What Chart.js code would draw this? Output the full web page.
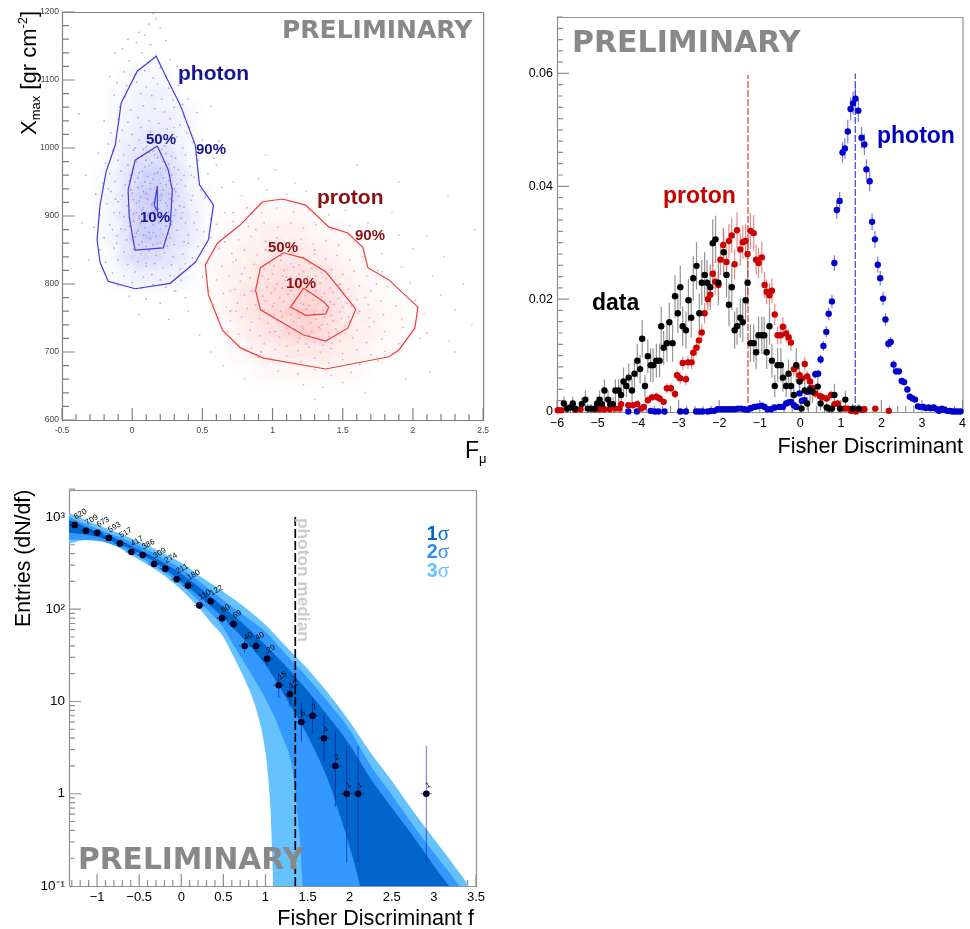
<!DOCTYPE html>
<html>
<head>
<meta charset="utf-8">
<script src="https://cdn.jsdelivr.net/npm/chart.js@4"></script>
<style>
  html, body { margin: 0; padding: 0; background: #fff; overflow: hidden; }
  canvas { position: absolute; }
</style>
</head>
<body>
<canvas id="scatterPanel" style="left:0;top:0"></canvas>
<canvas id="fisherPanel" style="left:490px;top:0"></canvas>
<canvas id="entriesPanel" style="left:0;top:470px"></canvas>
<script>
// --- top left: Xmax vs Fmu ---
const photon90 = [[.171,1135],[.036,1113],[-.079,1066],[-.093,1044],[-.121,1004],[-.186,965],[-.229,916],[-.25,865],[-.229,832],[-.171,804],[.021,793],[.271,801],[.45,832],[.543,865],[.579,916],[.557,923],[.479,946],[.45,1004],[.343,1063],[.236,1107],[.171,1135]];
const photon50 = [[.179,1003],[.021,982],[-.029,938],[-.021,899],[.007,865],[.021,850],[.221,853],[.271,887],[.286,938],[.257,968],[.179,1003]];
const photon10 = [[.179,944],[.157,916],[.179,907],[.179,944]];
const proton90 = [[.929,921],[1.071,925],[1.236,916],[1.4,884],[1.536,875],[1.643,854],[1.679,824],[1.829,806],[2.036,766],[2.014,735],[1.9,703],[1.829,693],[1.379,675],[.936,691],[.771,706],[.643,732],[.543,784],[.521,828],[.607,860],[.771,887],[.929,921]];
const proton50 = [[1.079,846],[1.221,838],[1.379,818],[1.486,791],[1.593,763],[1.536,735],[1.379,716],[1.221,725],[.914,762],[.879,791],[.914,824],[1.079,846]];
const proton10 = [[1.221,794],[1.129,766],[1.236,754],[1.379,756],[1.4,766],[1.364,774],[1.221,794]];

// density of the clouds, rows top to bottom
const photonDensityCols = [-.2,-.1,0,.1,.2,.3,.4,.5];
const photonDensityRows = [1110,1080,1050,1020,990,960,930,900,870,840,810];
const photonDensity = [
  [0,0,1,1,1,0,0,0],
  [0,1,1,2,2,1,0,0],
  [0,1,2,2,2,2,1,0],
  [0,1,2,3,3,2,1,0],
  [0,2,3,4,4,3,1,0],
  [1,2,4,6,6,4,2,0],
  [1,2,5,7,7,5,2,1],
  [1,2,5,7,7,5,3,1],
  [1,2,5,7,6,4,3,1],
  [0,2,4,5,4,3,2,0],
  [0,1,2,2,2,2,1,0]
];
const protonDensityCols = [.6,.7,.8,.9,1,1.1,1.2,1.3,1.4,1.5,1.6,1.7,1.8,1.9];
const protonDensityRows = [910,880,850,820,790,760,730,700,670];
const protonDensity = [
  [0,0,1,1,1,1,1,1,0,0,0,0,0,0],
  [0,1,1,2,2,2,2,1,1,1,0,0,0,0],
  [1,1,2,2,3,3,3,2,2,1,1,0,0,0],
  [1,2,2,3,4,4,4,4,3,2,1,1,0,0],
  [1,2,3,4,5,5,6,5,4,3,2,1,1,0],
  [1,2,3,4,5,6,7,6,5,3,2,2,1,1],
  [0,1,2,3,4,5,6,6,4,3,2,2,1,1],
  [0,1,1,2,2,3,3,3,3,2,2,1,1,0],
  [0,0,0,1,1,1,1,1,1,1,1,0,0,0]
];

const photonCloud = [
  [.15,1198],[.17,1190],[.12,1182],[.2,1176],[.05,1170],[.09,1166],[-.03,1160],[.03,1155],[.13,1152],[.24,1158],[-.12,1140],[-.07,1146],[.07,1140],[.17,1136],[.27,1130],[.32,1120],[-.02,1128],[.11,1125],[.2,1118],[-.16,1105],[-.06,1112],[.02,1108],[.09,1114],[.15,1103],[.24,1106],
  [-.11,1096],[-.04,1092],[.03,1097],[.1,1090],[.18,1094],[.26,1088],[.33,1092],[.4,1072],[-.13,1078],[-.05,1075],[.06,1080],[.14,1077],[.21,1072],[.29,1070],[.36,1064],[-.09,1060],[-.01,1056],[.08,1062],[.16,1058],[.23,1053],[.3,1060],[.37,1046],[.46,1052],[-.2,1040],[-.1,1042],[-.03,1038],[.04,1045],[.12,1040],[.19,1036],[.27,1043],[.34,1034],[.41,1030],[-.15,1022],[-.07,1026],[0,1020],[.06,1030],[.13,1024],[.2,1018],[.25,1028],[.32,1016],[.39,1022],[.5,1012],[-.17,1006],[-.09,1010],[-.02,1004],[.05,1012],[.1,1002],[.16,1008],[.23,1003],[.3,1006],[.36,1000],[.43,1008],
  [-.24,992],[-.14,996],[-.06,990],[.01,997],[.07,988],[.12,994],[.18,986],[.24,992],[.31,985],[.38,990],[.47,982],[-.19,978],[-.1,982],[-.03,975],[.03,980],[.09,972],[.14,978],[.2,970],[.26,976],[.33,968],[.41,973],[-.16,962],[-.08,966],[-.01,960],[.05,964],[.11,958],[.16,962],[.22,956],[.28,960],[.35,953],[.44,957],[.54,962],[-.21,948],[-.12,951],[-.05,946],[.02,950],[.07,944],[.13,948],[.18,941],[.24,946],[.3,940],[.38,944],[.49,938],[-.26,932],[-.15,936],[-.07,930],[0,934],[.06,928],[.1,933],[.16,926],[.21,931],[.27,925],[.33,929],[.42,923],[.52,927],[-.18,918],[-.1,921],[-.03,915],[.03,919],[.08,912],[.14,917],[.19,910],[.25,915],[.31,909],[.37,913],[.46,906],[-.23,902],[-.13,905],[-.06,899],[.01,903],[.05,896],[.11,901],[.17,894],[.22,899],[.28,892],[.35,897],[.44,890],[.56,895],
  [-.27,884],[-.16,887],[-.08,881],[-.02,885],[.04,878],[.09,883],[.15,876],[.2,881],[.26,874],[.32,879],[.4,872],[.51,877],[-.2,868],[-.11,871],[-.04,865],[.02,869],[.07,862],[.13,867],[.18,860],[.24,865],[.3,858],[.37,862],[.47,855],[-.23,850],[-.13,853],[-.06,847],[.01,851],[.06,844],[.12,849],[.17,842],[.23,846],[.29,840],[.36,844],[.43,838],[-.19,832],[-.1,835],[-.03,829],[.04,833],[.1,826],[.16,830],[.22,824],[.28,828],[.34,822],[.41,826],[-.14,816],[-.06,812],[.02,818],[.08,810],[.14,814],[.2,806],[.27,812],[.35,806],[-.1,798],[0,802],[.07,794],[.15,799],[.24,795],[.31,790],[-.02,782],[.1,778],[.2,772],[.38,780],[.05,755],[.26,748],
  [.58,985],[.64,942],[.72,905],[.62,1010],[.56,1062],[-.33,960],[-.36,890],[-.31,835],[-.38,1050],[.66,862],[.74,835],[.85,790],[.95,850],[1.1,810],[1.22,770],[1.35,740],[1.48,800],[1.02,730],[.88,880],[1.3,850],[1.62,760],[1.75,820],[.7,760],[.92,700],
  [.02,1000],[.08,998],[.15,996],[.21,998],[.04,985],[.1,982],[.16,990],[.22,980],[.28,988],[.01,970],[.07,966],[.12,974],[.18,964],[.24,968],[.3,972],[-.02,952],[.04,956],[.09,950],[.15,954],[.2,948],[.26,952],[.32,947],[-.01,938],[.04,942],[.08,936],[.13,940],[.17,934],[.22,938],[.26,933],[.31,936],[.01,924],[.05,922],[.11,925],[.15,920],[.2,923],[.24,919],[.29,922],[-.02,908],[.03,905],[.07,909],[.12,904],[.16,907],[.21,903],[.26,906],[.3,901],[.01,892],[.06,889],[.1,893],[.15,887],[.19,890],[.24,885],[.28,888],[.03,875],[.08,872],[.12,876],[.17,870],[.22,873],[.27,868],[.05,858],[.1,855],[.15,858],[.2,853],[.25,856],[-.12,925],[-.09,905],[-.14,880],[-.11,860],[-.17,940],[-.05,880],[.34,915],[.38,890],[.4,860],[.43,930],[.37,960]
];

const protonCloud = [
  [.9,955],[1.02,968],[1.16,948],[.78,930],[.96,938],[1.1,932],[1.24,936],[1.34,925],[.66,905],[.82,912],[.92,905],[1.03,912],[1.15,906],[1.26,910],[1.4,902],[1.52,908],[1.66,920],[.6,888],[.72,892],[.83,885],[.94,890],[1.04,884],[1.13,889],[1.22,882],[1.31,887],[1.42,880],[1.55,885],[1.68,890],[1.85,905],
  [.56,868],[.66,872],[.76,865],[.85,870],[.95,863],[1.03,868],[1.12,861],[1.2,866],[1.29,859],[1.38,864],[1.47,857],[1.58,862],[1.72,866],[1.9,872],[.52,848],[.62,852],[.71,845],[.8,850],[.89,843],[.97,848],[1.06,841],[1.14,846],[1.22,839],[1.3,844],[1.38,837],[1.46,842],[1.55,835],[1.64,840],[1.78,845],[2.0,852],
  [.54,830],[.64,826],[.72,832],[.8,824],[.87,829],[.94,822],[1.01,827],[1.08,820],[1.15,825],[1.22,818],[1.28,823],[1.35,816],[1.42,821],[1.5,814],[1.58,819],[1.67,812],[1.78,818],[1.92,825],[.5,810],[.6,806],[.69,812],[.77,804],[.84,809],[.9,802],[.97,807],[1.03,800],[1.09,805],[1.16,798],[1.22,803],[1.28,796],[1.34,801],[1.41,794],[1.47,799],[1.54,792],[1.62,797],[1.7,790],[1.82,796],[1.98,802],[2.14,812],
  [.55,790],[.65,786],[.73,792],[.8,784],[.87,789],[.93,782],[.99,787],[1.05,780],[1.11,785],[1.17,778],[1.23,783],[1.29,776],[1.35,781],[1.41,774],[1.47,779],[1.53,772],[1.6,777],[1.68,770],[1.77,775],[1.88,768],[2.02,776],[2.2,784],[.58,770],[.67,766],[.75,772],[.82,764],[.88,769],[.94,762],[1.0,767],[1.06,760],[1.12,765],[1.18,758],[1.24,763],[1.3,756],[1.36,761],[1.42,754],[1.48,759],[1.54,752],[1.61,757],[1.69,750],[1.79,755],[1.92,748],[2.08,756],[2.3,762],
  [.62,750],[.7,746],[.78,752],[.85,744],[.91,749],[.97,742],[1.03,747],[1.09,740],[1.15,745],[1.21,738],[1.27,743],[1.33,736],[1.39,741],[1.45,734],[1.52,739],[1.6,732],[1.69,737],[1.8,730],[1.93,736],[2.1,728],[.68,730],[.76,726],[.84,732],[.91,724],[.98,729],[1.05,722],[1.12,727],[1.19,720],[1.26,725],[1.33,718],[1.4,723],[1.48,716],[1.57,721],[1.67,714],[1.78,719],[1.9,712],[2.05,720],[2.26,716],
  [.76,710],[.85,706],[.94,712],[1.02,704],[1.1,709],[1.18,702],[1.26,707],[1.34,700],[1.42,705],[1.5,698],[1.6,703],[1.7,696],[1.8,701],[.9,692],[1.0,688],[1.1,694],[1.2,686],[1.3,691],[1.4,684],[1.5,689],[1.62,682],[1.75,687],[1.04,672],[1.18,668],[1.3,674],[1.42,666],[1.56,670],[1.22,652],[1.36,648],[1.5,655],[1.3,630],[1.66,640],
  [.3,790],[.4,760],[.38,830],[.46,880],[.36,905],[.52,930],[.42,960],[.6,975],[.72,950],[.2,860],[.1,830],[.48,725],[.56,700],[.65,680],[.8,660],[2.1,870],[2.22,840],[2.36,800],[2.42,740],[2.3,700],[2.12,670],[1.95,660],[2.44,880],[2.25,930],[1.9,950],[1.6,975],[.95,990],[.05,900],[.15,1010],[.3,1030],
  [.98,830],[1.06,835],[1.13,830],[1.19,828],[1.26,830],[.93,812],[1,815],[1.07,812],[1.13,810],[1.19,814],[1.25,810],[1.31,812],[1.38,808],[.96,795],[1.02,792],[1.07,794],[1.13,790],[1.19,793],[1.25,788],[1.31,790],[1.37,786],[1.43,788],[1.5,785],[.95,775],[1.01,772],[1.08,774],[1.14,770],[1.2,772],[1.26,768],[1.32,771],[1.38,767],[1.44,770],[1.5,766],[1.56,768],[1.01,755],[1.07,752],[1.13,755],[1.19,750],[1.25,753],[1.31,748],[1.37,751],[1.43,746],[1.49,749],[1.55,745],[1.1,735],[1.16,732],[1.22,735],[1.28,730],[1.34,733],[1.4,728],[1.46,731],[1.52,727],[1.18,715],[1.24,712],[1.3,715],[1.36,710],[1.42,713],[1.66,780],[1.72,745],[1.74,800],[.74,760],[.7,790],[.78,815]
];

// --- top right: Fisher discriminant histograms, rows are [x, value, error] ---
const photonHist = [
  [-4.24,.0001,.0002],[-4.03,.0001,.0002],[-3.69,.0002,.0002],[-3.59,.0001,.0002],[-3.5,.0001,.0002],[-3.35,.0001,.0002],[-2.96,.0001,.0002],[-2.82,.0001,.0002],[-2.57,.0001,.0002],[-2.49,.0001,.0002],[-2.41,.0001,.0002],[-2.28,.0001,.0002],[-2.2,.0002,.0002],[-2.12,.0002,.0002],[-2.04,.0005,.0003],[-1.95,.0005,.0003],[-1.87,.0005,.0003],[-1.79,.0005,.0003],[-1.71,.0005,.0003],[-1.62,.0005,.0003],[-1.54,.0006,.0003],[-1.46,.0006,.0003],[-1.38,.0005,.0003],[-1.3,.0004,.0003],[-1.21,.0007,.0003],[-1.13,.0009,.0003],[-1.05,.001,.0003],[-.95,.0011,.0003],[-.88,.0009,.0003],[-.81,.0005,.0003],[-.72,.0005,.0003],[-.64,.0008,.0003],[-.52,.0009,.0003],[-.43,.0009,.0003],[-.35,.0015,.0004],[-.29,.0017,.0004],[-.23,.0018,.0004],[-.16,.0012,.0004],[-.1,.0009,.0003],
  [-.02,.0033,.0005],[.04,.002,.0004],[.1,.0021,.0004],[.18,.0036,.0005],[.25,.0042,.0006],[.37,.0067,.0007],[.44,.0068,.0007],[.5,.0093,.0008],[.57,.0117,.0009],[.64,.0142,.001],[.7,.0174,.0011],[.78,.0196,.0012],[.84,.0264,.0014],[.9,.0358,.0016],[.97,.0374,.0016],[1.04,.046,.0018],[1.1,.0467,.0018],[1.17,.0497,.0021],[1.24,.0537,.002],[1.3,.0547,.002],[1.36,.0555,.002],[1.43,.0534,.002],[1.51,.0486,.0019],[1.58,.0474,.0019],[1.63,.043,.0018],[1.71,.0409,.0018],[1.77,.0337,.0015],[1.84,.0306,.0015],[1.91,.0261,.0014],[1.97,.0237,.0013],[2.04,.0201,.0012],[2.1,.0164,.0011],[2.17,.0121,.0009],[2.23,.0124,.0009],[2.3,.0084,.0008],[2.36,.0072,.0007],[2.43,.0072,.0007],[2.5,.0055,.0006],[2.56,.0053,.0006],[2.64,.004,.0005],[2.7,.0027,.0005],[2.77,.0024,.0004],[2.83,.0022,.0004],[2.9,.001,.0003],[2.96,.0009,.0003],[3.03,.0009,.0003],[3.09,.0007,.0003],[3.16,.0008,.0003],[3.22,.0007,.0003],[3.29,.0008,.0003],[3.36,.0005,.0003],[3.42,.0002,.0002],[3.49,.0006,.0003],[3.55,.0004,.0002],[3.62,.0002,.0002],[3.69,.0002,.0002],[3.75,.0001,.0001],[3.82,.0001,.0001],[3.88,.0001,.0001],[3.95,.0001,.0001]
];
const protonHist = [
  [-5.98,.0003,.0003],[-5.9,.0003,.0003],[-5.55,.0004,.0004],[-5.42,.0005,.0004],[-5.07,.0005,.0004],[-4.95,.0005,.0004],[-4.84,.0005,.0004],[-4.7,.0005,.0004],[-4.56,.0006,.0004],[-4.46,.0006,.0004],[-4.42,.0014,.0005],[-4.24,.0012,.0005],[-4.13,.0012,.0005],[-4.02,.0014,.0005],[-3.92,.0006,.0004],[-3.86,.0009,.0005],[-3.76,.0021,.0007],[-3.66,.0026,.0007],[-3.55,.0027,.0007],[-3.47,.0024,.0007],[-3.37,.0018,.0006],[-3.29,.0042,.0009],[-3.19,.0042,.0009],[-3.09,.0032,.0008],[-3.04,.0065,.001],[-2.96,.006,.001],[-2.9,.0087,.0012],[-2.82,.0058,.001],[-2.77,.0088,.0012],[-2.68,.0088,.0012],[-2.64,.0105,.0013],[-2.56,.0114,.0014],[-2.5,.0127,.0015],[-2.43,.0141,.0016],[-2.36,.0175,.0018],[-2.28,.02,.002],[-2.22,.0208,.0021],[-2.16,.0245,.0024],[-2.1,.0231,.0023],[-2.02,.0225,.0022],[-1.97,.027,.0027],[-1.9,.0296,.003],[-1.82,.0266,.0027],[-1.76,.0303,.003],[-1.69,.0313,.0031],[-1.62,.0262,.0027],[-1.56,.0322,.0032],[-1.48,.0288,.0029],[-1.42,.0301,.003],[-1.35,.0303,.003],[-1.3,.028,.0028],[-1.23,.0321,.0032],[-1.15,.0317,.0032],[-1.09,.027,.0027],[-1.03,.0264,.0027],[-.95,.0274,.0028],[-.88,.0225,.0023],
  [-.83,.0213,.0022],[-.76,.0207,.0021],[-.7,.0215,.0022],[-.63,.0173,.0019],[-.56,.0136,.0016],[-.48,.0136,.0016],[-.43,.0151,.0017],[-.35,.0139,.0016],[-.29,.0132,.0015],[-.23,.0123,.0015],[-.16,.0076,.0012],[-.1,.008,.0012],[-.02,.0065,.0011],[.04,.006,.001],[.11,.0085,.0012],[.17,.0063,.001],[.24,.0054,.001],[.3,.0042,.0009],[.37,.0033,.0008],[.49,.0028,.0007],[.55,.0026,.0007],[.65,.0024,.0007],[.76,.003,.0008],[.84,.0014,.0006],[.92,.0015,.0006],[.98,.0006,.0004],[1.08,.0006,.0004],[1.17,.0006,.0004],[1.25,.0002,.0003],[1.37,.0001,.0002],[1.53,.0004,.0003],[1.58,.0005,.0003],[1.85,.0006,.0004],[2.18,.0002,.0003]
];
const dataHist = [
  [-5.83,.0015,.0012],[-5.75,.0006,.0008],[-5.67,.0008,.0008],[-5.61,.0015,.0012],[-5.55,.0006,.0008],[-5.39,.0014,.0012],[-5.3,.0022,.0016],[-5.24,.0006,.0008],[-5.16,.0006,.0008],[-5.07,.0006,.0008],[-5.01,.0015,.0012],[-4.95,.0022,.0016],[-4.89,.0014,.0012],[-4.83,.0038,.002],[-4.74,.0022,.0016],[-4.69,.0014,.0012],[-4.62,.0014,.0012],[-4.56,.0038,.002],[-4.48,.0038,.002],[-4.42,.003,.002],[-4.36,.0054,.0025],[-4.29,.0046,.002],[-4.23,.0061,.0025],[-4.15,.0038,.002],[-4.09,.0068,.0025],[-4.02,.0091,.003],[-3.95,.0076,.0025],[-3.9,.013,.0033],[-3.83,.0046,.002],[-3.76,.0099,.003],[-3.69,.0083,.003],[-3.63,.0083,.003],[-3.55,.0091,.003],[-3.47,.0091,.003],[-3.43,.0152,.0035],[-3.37,.0114,.003],[-3.29,.0122,.0033],[-3.23,.0159,.0035],[-3.15,.0122,.0033],[-3.09,.0205,.0038],[-3.02,.0175,.0035],[-2.96,.0221,.0038],[-2.9,.0152,.0035],[-2.82,.0145,.0033],[-2.76,.0198,.0038],[-2.69,.0167,.0035],[-2.64,.0237,.004],[-2.56,.0259,.0042],[-2.49,.0175,.0035],[-2.43,.0229,.004],[-2.36,.0243,.004],[-2.3,.0229,.004],[-2.22,.0221,.004],[-2.16,.0299,.0042],[-2.09,.0306,.0042],[-2.02,.0229,.004],[-1.89,.0283,.0042],[-1.82,.0243,.004],[-1.76,.019,.0038],[-1.69,.0221,.004],[-1.62,.0145,.0033],[-1.56,.0152,.0033],[-1.48,.0167,.0035],[-1.42,.0159,.0035],[-1.35,.0198,.0038],[-1.3,.0229,.004],[-1.23,.0122,.0033],[-1.15,.0122,.0033],[-1.09,.0106,.003],[-1.03,.0136,.0033],[-.95,.0136,.0033],
  [-.89,.0136,.0033],[-.83,.0106,.003],[-.76,.0152,.0033],[-.7,.0091,.003],[-.63,.0046,.002],[-.56,.0083,.003],[-.48,.0083,.003],[-.43,.0061,.0025],[-.35,.0046,.002],[-.29,.0068,.0025],[-.23,.0046,.002],[-.16,.003,.002],[-.1,.0083,.003],[-.02,.0054,.0025],[.03,.0006,.0008],[.11,.0038,.002],[.17,.0015,.0012],[.24,.0039,.002],[.3,.0036,.002],[.43,.0045,.002],[.5,.0015,.0012],[.65,.0008,.0008],[.71,.0006,.0008],[.78,.0006,.0008],[.84,.003,.002],[.98,.0006,.0008],[1.11,.0022,.0016],[1.29,.0006,.0008],[1.44,.0006,.0008]
];
const medianProton = -1.29;
const medianPhoton = 1.355;

// --- bottom left: entries vs Fisher discriminant ---
const entriesX = [-1.265,-1.13,-.996,-.86,-.727,-.592,-.458,-.323,-.189,-.054,.08,.215,.35,.484,.619,.753,.888,1.02,1.157,1.29,1.426,1.56,1.695,1.83,1.965,2.1,2.91];
const entries = [820,709,673,593,517,417,386,309,274,211,180,110,122,80,69,40,40,29,15,12,6,7,4,2,1,1,1];
const entriesLow = [792,682,647,569,494,397,367,291,257,196,167,100,111,71,61,34,34,24,11,8.6,3.7,4.5,2.2,.72,.18,.18,.18];
const entriesHigh = [849,736,699,617,540,437,405,327,291,226,193,120,133,89,77,46,46,34,19,16,9.7,11,7.2,4.7,3.3,3.3,3.3];
const sigma3Up = [[-1.34,1112],[-1,824],[-.75,675],[-.5,539],[-.25,420],[0,319],[.25,219],[.5,155],[.75,106],[1,68],[1.25,39],[1.5,22.6],[1.75,12.1],[2,6.03],[2.25,2.78],[2.5,1.38],[2.75,.654],[3,.325],[3.25,.162],[3.44,.09],[3.52,.06]];
const sigma2Up = [[-1.34,1006],[-1,746],[-.75,611],[-.5,488],[-.25,371],[0,275],[.25,189],[.5,125],[.75,85],[1,57],[1.25,32],[1.5,18.1],[1.75,9.7],[2,4.94],[2.25,2.01],[2.5,.975],[2.75,.461],[3,.229],[3.25,.117],[3.33,.091],[3.52,.04]];
const sigma1Up = [[-1.34,934],[-1,692],[-.75,567],[-.5,442],[-.25,336],[0,243],[.25,163],[.5,106],[.75,68],[1,41],[1.25,23.8],[1.5,13.1],[1.75,6.84],[2,3.4],[2.25,1.45],[2.5,.705],[2.75,.351],[3,.166],[3.17,.103],[3.26,.08],[3.52,.04]];
const sigma1Down = [[-1.34,675],[-1,611],[-.75,513],[-.5,409],[-.25,296],[0,199],[.25,130],[.5,81],[.75,46.7],[1,25],[1.25,10.7],[1.5,4.25],[1.75,1.35],[1.893,.55],[2,.266],[2.12,.103],[2.155,.07],[3.52,.03]];
const sigma2Down = [[-1.34,567],[-1,553],[-.75,476],[-.5,371],[-.25,268],[0,184],[.25,112],[.5,63],[.619,41],[.821,20.5],[1.024,9.7],[1.202,4.15],[1.321,1.82],[1.381,.59],[1.417,.247],[1.44,.103],[1.465,.071],[3.52,.03]];
const sigma3Down = [[-1.34,513],[-1.12,567],[-.87,526],[-.5,344],[-.25,249],[0,163],[.25,94],[.345,73],[.5,50],[.583,36],[.738,18.5],[.881,8.78],[.976,3.85],[1.024,1.82],[1.06,.67],[1.095,.103],[1.107,.07],[3.52,.03]];
const photonMedian = 1.354;

// helpers for ROOT-like axes
function steps(from, to, step) {
  const out = [];
  for (let v = from; v <= to + step / 100; v += step) out.push(+v.toFixed(5));
  return out;
}

function framePlugin(cfg) {
  return {
    id: 'frame',
    beforeDatasetsDraw(chart) {
      const { ctx, chartArea: a, scales } = chart;
      ctx.save();
      ctx.strokeStyle = cfg.color;
      ctx.lineWidth = 1.2;
      ctx.beginPath();
      ctx.rect(a.left + .5, a.top + .5, a.right - a.left, a.bottom - a.top);
      const tick = (axis, v, len) => {
        if (axis === 'x') {
          const p = scales.x.getPixelForValue(v);
          ctx.moveTo(p, a.bottom); ctx.lineTo(p, a.bottom - len);
        } else {
          const p = scales.y.getPixelForValue(v);
          ctx.moveTo(a.left, p); ctx.lineTo(a.left + len, p);
        }
      };
      cfg.xMinor.forEach(v => tick('x', v, cfg.xLen[1]));
      cfg.xMajor.forEach(v => tick('x', v, cfg.xLen[0]));
      cfg.yMinor.forEach(v => tick('y', v, cfg.yLen[1]));
      cfg.yMajor.forEach(v => tick('y', v, cfg.yLen[0]));
      ctx.stroke();
      ctx.restore();
    }
  };
}

// text list: each entry is a run of parts drawn one after the other
function textPlugin(items) {
  return {
    id: 'labels',
    afterDatasetsDraw(chart) {
      const ctx = chart.ctx;
      items.forEach(it => {
        ctx.save();
        ctx.translate(it.x, it.y);
        if (it.rot) ctx.rotate(it.rot * Math.PI / 180);
        ctx.textBaseline = 'alphabetic';
        ctx.fillStyle = it.color || '#000';
        const parts = it.parts || [{ t: it.text, f: it.font }];
        let cx = 0;
        if (it.align === 'right') {
          parts.forEach(p => { ctx.font = p.f; cx -= ctx.measureText(p.t).width; });
        }
        parts.forEach(p => {
          ctx.font = p.f;
          ctx.fillText(p.t, cx, p.dy || 0);
          cx += ctx.measureText(p.t).width;
        });
        ctx.restore();
      });
    }
  };
}

function histErrors(sets) {
  return {
    id: 'histErrors',
    beforeDatasetsDraw(chart) {
      const { ctx, scales } = chart;
      ctx.save();
      ctx.lineWidth = 1.2;
      sets.forEach(s => {
        ctx.strokeStyle = s.color;
        ctx.beginPath();
        s.rows.forEach(r => {
          const p = scales.x.getPixelForValue(r[0]);
          ctx.moveTo(p, scales.y.getPixelForValue(r[1] - r[2]));
          ctx.lineTo(p, scales.y.getPixelForValue(r[1] + r[2]));
        });
        ctx.stroke();
      });
      ctx.restore();
    }
  };
}

const entriesMarks = {
  id: 'entriesMarks',
  afterDatasetsDraw(chart) {
    const { ctx, scales } = chart;
    ctx.save();
    ctx.strokeStyle = 'rgba(0,0,170,.55)';
    ctx.lineWidth = 1;
    ctx.beginPath();
    entriesX.forEach((x, i) => {
      const px = scales.x.getPixelForValue(x);
      const py = scales.y.getPixelForValue(entries[i]);
      ctx.moveTo(px, scales.y.getPixelForValue(entriesLow[i]));
      ctx.lineTo(px, scales.y.getPixelForValue(entriesHigh[i]));
      ctx.moveTo(scales.x.getPixelForValue(x - .067), py);
      ctx.lineTo(scales.x.getPixelForValue(x + .067), py);
    });
    ctx.stroke();
    ctx.fillStyle = '#000';
    ctx.font = '8px "Liberation Sans"';
    entriesX.forEach((x, i) => {
      ctx.save();
      ctx.translate(scales.x.getPixelForValue(x) + 1, scales.y.getPixelForValue(entries[i]) - 5.5);
      ctx.rotate(-30 * Math.PI / 180);
      ctx.fillText(String(entries[i]), 0, 0);
      ctx.restore();
    });
    ctx.restore();
  }
};

function softSprites(rgb) {
  const sprites = [null];
  for (let level = 1; level <= 9; level++) {
    const c = document.createElement('canvas');
    c.width = c.height = 36;
    const g = c.getContext('2d');
    const grad = g.createRadialGradient(18, 18, 0, 18, 18, 18);
    grad.addColorStop(0, `rgba(${rgb},${.036 * level})`);
    grad.addColorStop(1, `rgba(${rgb},0)`);
    g.fillStyle = grad;
    g.fillRect(0, 0, 36, 36);
    sprites.push(c);
  }
  return sprites;
}

function densityPoints(cols, rows, table) {
  const out = [];
  table.forEach((row, j) => row.forEach((level, i) => {
    if (level > 0) out.push({ x: cols[i], y: rows[j], level });
  }));
  return out;
}

function pairs(list) {
  return list.map(p => ({ x: p[0], y: p[1] }));
}

function axis(opts) {
  return {
    type: opts.type || 'linear',
    min: opts.min,
    max: opts.max,
    border: { display: false },
    grid: { display: false, drawTicks: false },
    ticks: {
      autoSkip: false,
      maxRotation: 0,
      minRotation: 0,
      color: opts.color,
      padding: opts.padding,
      font: { family: '"Liberation Sans"', size: opts.size },
      callback: opts.label
    },
    afterBuildTicks: s => { s.ticks = opts.ticks.map(v => ({ value: v })); },
    afterFit: s => {
      if (opts.width) s.width = opts.width;
      if (opts.height) s.height = opts.height;
    }
  };
}

function makeChart(id, w, h, padding, config, plugins) {
  const canvas = document.getElementById(id);
  canvas.width = w;
  canvas.height = h;
  canvas.style.width = w + 'px';
  canvas.style.height = h + 'px';
  return new Chart(canvas.getContext('2d'), {
    type: 'scatter',
    data: { datasets: config.datasets },
    options: {
      responsive: false,
      animation: false,
      events: [],
      layout: { padding, autoPadding: false },
      scales: config.scales,
      plugins: { legend: { display: false }, tooltip: { enabled: false } }
    },
    plugins
  });
}

function contour(points, color, order) {
  return { data: pairs(points), showLine: true, borderColor: color, borderWidth: 1.2, pointRadius: 0, tension: 0, order };
}

function cloud(points, color, order) {
  return { data: pairs(points), pointRadius: .9, borderWidth: 0, pointBackgroundColor: color, order };
}

function density(points, sprites, order) {
  return { data: points, pointRadius: 18, pointBorderWidth: 0, pointStyle: c => sprites[c.raw ? c.raw.level : 1], order };
}

// top left panel
const photonSprites = softSprites('70,70,230');
const protonSprites = softSprites('245,80,80');
const sans = '"Liberation Sans"';
const navy = '#161690', maroon = '#8b1010';
// the last x label keeps 12px free on the right, so the canvas runs a bit past the next panel's edge
makeChart('scatterPanel', 495, 470, { left: 0, right: 2, top: 12, bottom: 0 }, {
  datasets: [
    contour(photon10, '#3c3ce0', 0), contour(photon50, '#3c3ce0', 0), contour(photon90, '#3c3ce0', 0),
    contour(proton10, '#f03c3c', 0), contour(proton50, '#f03c3c', 0), contour(proton90, '#f03c3c', 0),
    cloud(protonCloud, 'rgba(250,110,110,.55)', 3),
    cloud(photonCloud, 'rgba(110,110,240,.55)', 4),
    density(densityPoints(protonDensityCols, protonDensityRows, protonDensity), protonSprites, 5),
    density(densityPoints(photonDensityCols, photonDensityRows, photonDensity), photonSprites, 6)
  ],
  scales: {
    x: axis({ min: -.5, max: 2.5, ticks: [-.5, 0, .5, 1, 1.5, 2, 2.5], label: v => String(v), size: 8.5, color: '#444', padding: 6, height: 50 }),
    y: axis({ min: 600, max: 1200, ticks: [600, 700, 800, 900, 1000, 1100, 1200], label: v => String(v), size: 8.5, color: '#444', padding: 3, width: 62 })
  }
}, [
  framePlugin({ color: '#808080', xMajor: steps(-.5, 2.5, .5), xMinor: steps(-.5, 2.5, .1), yMajor: steps(600, 1200, 100), yMinor: steps(600, 1200, 20), xLen: [12, 6], yLen: [13, 7] }),
  textPlugin([
    { text: 'PRELIMINARY', x: 282, y: 38, font: 'bold 25px "DejaVu Sans"', color: '#888' },
    { text: 'photon', x: 178, y: 80, font: `bold 21px ${sans}`, color: navy },
    { text: '50%', x: 146, y: 144, font: `bold 15px ${sans}`, color: navy },
    { text: '90%', x: 196, y: 154, font: `bold 15px ${sans}`, color: navy },
    { text: '10%', x: 140, y: 222, font: `bold 15px ${sans}`, color: navy },
    { text: 'proton', x: 317, y: 204, font: `bold 21px ${sans}`, color: maroon },
    { text: '90%', x: 355, y: 240, font: `bold 15px ${sans}`, color: maroon },
    { text: '50%', x: 268, y: 252, font: `bold 15px ${sans}`, color: maroon },
    { text: '10%', x: 286, y: 288, font: `bold 15px ${sans}`, color: maroon },
    { x: 465, y: 458, parts: [{ t: 'F', f: `23px ${sans}` }, { t: 'μ', f: `13px ${sans}`, dy: 5 }] },
    { x: 36, y: 135, rot: -90, parts: [
      { t: 'X', f: `22px ${sans}` }, { t: 'max', f: `13px ${sans}`, dy: 4 },
      { t: ' [gr cm', f: `22px ${sans}` }, { t: '-2', f: `13px ${sans}`, dy: -9 }, { t: ']', f: `22px ${sans}` }
    ] }
  ])
]);

// top right panel
const histDots = (rows, color, order) => ({ data: pairs(rows), pointRadius: 3.2, pointBorderWidth: 0, pointBackgroundColor: color, clip: false, order });
const dashed = (x, top, color) => ({ data: [{ x, y: 0 }, { x, y: top }], showLine: true, borderColor: color, borderWidth: 1.2, borderDash: [7, 2], pointRadius: 0, order: 4 });
makeChart('fisherPanel', 480, 470, { left: 0, right: 7, top: 17, bottom: 0 }, {
  datasets: [
    histDots(dataHist, '#000', 1),
    histDots(protonHist, '#cc0000', 2),
    histDots(photonHist, '#0000cc', 3),
    dashed(medianProton, .0597, '#e03c3c'),
    dashed(medianPhoton, .06, '#3c3ce0')
  ],
  scales: {
    x: axis({ min: -6, max: 4, ticks: [-6, -5, -4, -3, -2, -1, 0, 1, 2, 3, 4], label: v => String(v).replace('-', '−'), size: 12.5, color: '#000', padding: 4, height: 58 }),
    y: axis({ min: 0, max: .07, ticks: [0, .02, .04, .06], label: v => v === 0 ? '0' : v.toFixed(2), size: 12.5, color: '#000', padding: 4, width: 67 })
  }
}, [
  framePlugin({ color: '#909090', xMajor: steps(-6, 4, 1), xMinor: steps(-6, 4, .2), yMajor: steps(0, .06, .02), yMinor: steps(0, .07, .002), xLen: [12, 6], yLen: [12, 6] }),
  histErrors([
    { rows: dataHist, color: 'rgba(60,60,60,.55)' },
    { rows: protonHist, color: 'rgba(225,110,110,.8)' },
    { rows: photonHist, color: 'rgba(90,90,230,.8)' }
  ]),
  textPlugin([
    { text: 'PRELIMINARY', x: 82, y: 52, font: 'bold 30px "DejaVu Sans"', color: '#888' },
    { text: 'photon', x: 387, y: 143, font: `bold 23px ${sans}`, color: '#0000bb' },
    { text: 'proton', x: 173, y: 203, font: `bold 23px ${sans}`, color: '#c80000' },
    { text: 'data', x: 102, y: 310, font: `bold 23px ${sans}`, color: '#000' },
    { text: 'Fisher Discriminant', x: 473, y: 453, align: 'right', font: `21.7px ${sans}` }
  ])
]);

// bottom left panel
const yLabelsC = { 0.1: '10⁻¹', 1: '1', 10: '10', 100: '10²', 1000: '10³' };
const band = (points, fillTo, color, order) => ({
  data: pairs(points), showLine: true, borderWidth: 0, pointRadius: 0, cubicInterpolationMode: 'monotone',
  fill: fillTo === null ? false : { target: fillTo }, backgroundColor: color, order
});
const minorLog = [.2, .3, .4, .5, .6, .7, .8, .9, 2, 3, 4, 5, 6, 7, 8, 9, 20, 30, 40, 50, 60, 70, 80, 90, 200, 300, 400, 500, 600, 700, 800, 900, 2000];
makeChart('entriesPanel', 490, 459, { left: 0, right: 14, top: 20, bottom: 0 }, {
  datasets: [
    { data: entriesX.map((x, i) => ({ x, y: entries[i] })), pointRadius: 3.3, pointBorderWidth: 0, pointBackgroundColor: '#000', order: 0 },
    { data: [{ x: photonMedian, y: .1 }, { x: photonMedian, y: 1000 }], showLine: true, borderColor: '#000', borderWidth: 1.7, borderDash: [9, 3], pointRadius: 0, order: 1 },
    band(sigma1Up, 3, '#0066cc', 2),
    band(sigma1Down, null, '#0066cc', 3),
    band(sigma2Up, 5, '#3399ff', 4),
    band(sigma2Down, null, '#3399ff', 5),
    band(sigma3Up, 7, '#66c2ff', 6),
    band(sigma3Down, null, '#66c2ff', 7)
  ],
  scales: {
    x: axis({ min: -1.333, max: 3.5, ticks: [-1, -.5, 0, .5, 1, 1.5, 2, 2.5, 3, 3.5], label: v => String(v).replace('-', '−'), size: 13, color: '#000', padding: 4, height: 43 }),
    y: axis({ type: 'logarithmic', min: .1, max: 1960, ticks: [.1, 1, 10, 100, 1000], label: v => yLabelsC[v], size: 13.5, color: '#000', padding: 4, width: 69 })
  }
}, [
  framePlugin({ color: '#909090', xMajor: steps(-1, 3.5, .5), xMinor: steps(-1.3, 3.5, .1), yMajor: [1, 10, 100, 1000], yMinor: minorLog, xLen: [12, 6], yLen: [12, 6] }),
  entriesMarks,
  textPlugin([
    { text: 'PRELIMINARY', x: 78, y: 399, font: 'bold 29.7px "DejaVu Sans"', color: '#888' },
    { text: 'photon median', x: 298, y: 48, rot: 90, font: `bold 17.3px ${sans}`, color: '#ccc' },
    { x: 449, y: 70, align: 'right', color: '#0066cc', parts: [{ t: '1', f: `bold 19.5px ${sans}` }, { t: 'σ', f: '21px "Liberation Serif"' }] },
    { x: 449, y: 88, align: 'right', color: '#2f8cf0', parts: [{ t: '2', f: `bold 19.5px ${sans}` }, { t: 'σ', f: '21px "Liberation Serif"' }] },
    { x: 449, y: 107, align: 'right', color: '#66c2ff', parts: [{ t: '3', f: `bold 19.5px ${sans}` }, { t: 'σ', f: '21px "Liberation Serif"' }] },
    { text: 'Fisher Discriminant f', x: 474, y: 455, align: 'right', font: `21.6px ${sans}` },
    { text: 'Entries (dN/df)', x: 30, y: 157, rot: -90, font: `21.3px ${sans}` }
  ])
]);
</script>
</body>
</html>
